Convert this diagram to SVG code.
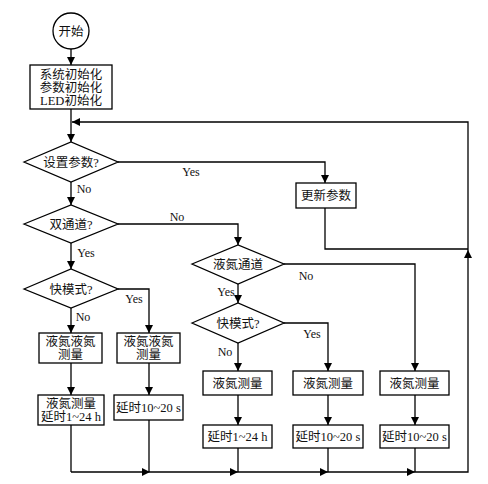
<svg xmlns="http://www.w3.org/2000/svg" width="488" height="484" viewBox="0 0 488 484">
<defs>
<marker id="ah" viewBox="0 0 10 10" refX="10" refY="5" markerWidth="9" markerHeight="8" markerUnits="userSpaceOnUse" orient="auto">
<path d="M0,0 L10,5 L0,10 Z" fill="#000"/>
</marker>
<style>
.s{fill:#fff;stroke:#000;stroke-width:1.3}
.c{fill:none;stroke:#000;stroke-width:1.3;marker-end:url(#ah)}
.l{fill:none;stroke:#000;stroke-width:1.3}
text{font-family:"Liberation Serif","Noto Sans CJK SC",serif;font-size:12.5px;fill:#111;text-anchor:middle}
.lb{font-size:12px}
</style>
</defs>
<rect width="488" height="484" fill="#fff"/>
<g id="connectors">
<path class="c" d="M71,49 V65"/>
<path class="c" d="M71,109 V142"/>
<path class="c" d="M118,162 H325 V183"/>
<path class="l" d="M325,208 V249 H468"/>
<path class="c" d="M71,182 V205"/>
<path class="c" d="M118,224 H238 V245"/>
<path class="c" d="M71,243 V269"/>
<path class="c" d="M118,289 H149 V333"/>
<path class="c" d="M71,308 V333"/>
<path class="c" d="M71,363 V395"/>
<path class="c" d="M149,363 V395"/>
<path class="c" d="M284,264 H415 V371"/>
<path class="c" d="M238,284 V303"/>
<path class="c" d="M284,323 H328 V371"/>
<path class="c" d="M238,343 V371"/>
<path class="c" d="M238,395 V425"/>
<path class="c" d="M328,395 V425"/>
<path class="c" d="M415,395 V425"/>
<path class="l" d="M71,425 V472"/>
<path class="l" d="M149,420 V472"/>
<path class="l" d="M238,448 V472"/>
<path class="l" d="M328,448 V472"/>
<path class="l" d="M415,448 V472"/>
<path class="c" d="M71,472 H150"/>
<path class="c" d="M150,472 H238"/>
<path class="c" d="M238,472 H328"/>
<path class="c" d="M328,472 H415"/>
<path class="c" d="M415,472 H468 V250"/>
<path class="c" d="M468,250 V122 H72"/>
<text class="lb" x="191" y="176">Yes</text>
<text class="lb" x="84" y="193">No</text>
<text class="lb" x="177" y="221">No</text>
<text class="lb" x="86" y="257">Yes</text>
<text class="lb" x="134" y="303">Yes</text>
<text class="lb" x="83" y="321">No</text>
<text class="lb" x="306" y="280">No</text>
<text class="lb" x="226" y="296">Yes</text>
<text class="lb" x="312" y="338">Yes</text>
<text class="lb" x="225" y="356">No</text>
</g>
<g id="start">
<circle class="s" cx="71" cy="31" r="18"/>
<text x="71" y="35.5">开始</text>
</g>
<g id="init">
<rect class="s" x="30" y="65" width="82" height="44"/>
<text x="71" y="78.5">系统初始化</text>
<text x="71" y="91.5">参数初始化</text>
<text x="71" y="104.5">LED初始化</text>
</g>
<g id="d_setparam">
<polygon class="s" points="24,162 71,142 118,162 71,182"/>
<text x="71" y="166.5">设置参数?</text>
</g>
<g id="update">
<rect class="s" x="296" y="183" width="60" height="25"/>
<text x="326" y="200">更新参数</text>
</g>
<g id="d_dual">
<polygon class="s" points="24,224 71,205 118,224 71,243"/>
<text x="71" y="228.5">双通道?</text>
</g>
<g id="d_fast1">
<polygon class="s" points="24,289 71,269 118,289 71,308"/>
<text x="71" y="293.5">快模式?</text>
</g>
<g id="a1">
<rect class="s" x="39" y="333" width="63" height="30"/>
<text x="70.5" y="346">液氮液氮</text>
<text x="70.5" y="359">测量</text>
</g>
<g id="b1">
<rect class="s" x="117" y="333" width="63" height="30"/>
<text x="148.5" y="346">液氮液氮</text>
<text x="148.5" y="359">测量</text>
</g>
<g id="a2">
<rect class="s" x="38" y="395" width="66" height="30"/>
<text x="71" y="408">液氮测量</text>
<text x="71" y="421">延时1~24 h</text>
</g>
<g id="b2">
<rect class="s" x="114" y="395" width="69" height="25"/>
<text x="148.5" y="412">延时10~20 s</text>
</g>
<g id="d_chan">
<polygon class="s" points="192,264 238,245 284,264 238,284"/>
<text x="238" y="268.5">液氮通道</text>
</g>
<g id="d_fast2">
<polygon class="s" points="192,323 238,303 284,323 238,343"/>
<text x="238" y="327.5">快模式?</text>
</g>
<g id="c1">
<rect class="s" x="203" y="371" width="69" height="24"/>
<text x="237.5" y="387.5">液氮测量</text>
</g>
<g id="c2">
<rect class="s" x="293" y="371" width="70" height="24"/>
<text x="328" y="387.5">液氮测量</text>
</g>
<g id="c3">
<rect class="s" x="380" y="371" width="69" height="24"/>
<text x="414.5" y="387.5">液氮测量</text>
</g>
<g id="c1d">
<rect class="s" x="203" y="425" width="69" height="23"/>
<text x="237.5" y="441">延时1~24 h</text>
</g>
<g id="c2d">
<rect class="s" x="293" y="425" width="70" height="23"/>
<text x="328" y="441">延时10~20 s</text>
</g>
<g id="c3d">
<rect class="s" x="380" y="425" width="69" height="23"/>
<text x="414.5" y="441">延时10~20 s</text>
</g>
</svg>
